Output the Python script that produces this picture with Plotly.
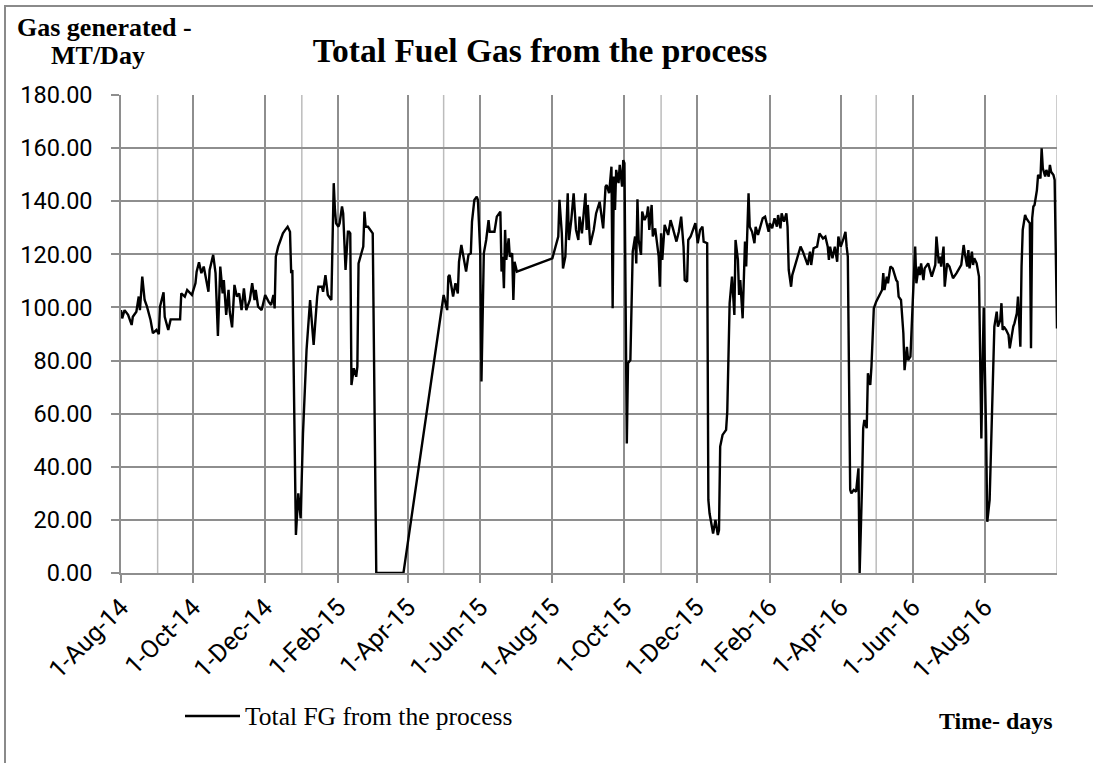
import pandas as pd
import plotly.graph_objects as go

# ---------------- data ----------------
start_date = "2014-08-01"
# days elapsed since 1-Aug-14
day_offset = [
    0, 1, 3, 6, 9, 10, 13, 15, 16, 18, 20, 22, 25, 27, 30, 32, 33, 36, 37, 40,
    42, 50, 51, 54, 56, 60, 63, 64, 66, 68, 70, 72, 74, 75, 78, 80, 81, 82, 84, 86,
    87, 89, 91, 92, 94, 96, 98, 100, 102, 104, 106, 109, 111, 113, 114, 116, 119, 122, 125, 127,
    129, 130, 131, 133, 135, 137, 139, 141, 143, 144, 145, 148, 150, 152, 154, 157, 160, 161, 163, 166,
    167, 170, 171, 173, 175, 178, 180, 181, 182, 184, 185, 187, 188, 190, 192, 193, 194, 195, 197, 199,
    200, 201, 203, 205, 206, 207, 209, 212, 213, 216, 239, 273, 274, 276, 277, 278, 281, 283, 285, 286,
    288, 290, 292, 294, 296, 297, 299, 301, 302, 304, 305, 307, 309, 311, 312, 316, 318, 321, 322, 323,
    324, 325, 326, 328, 329, 331, 332, 333, 335, 365, 369, 370, 371, 373, 374, 376, 378, 379, 381, 383,
    385, 387, 388, 390, 391, 393, 394, 395, 397, 400, 402, 405, 408, 410, 411, 413, 415, 416, 417, 418,
    419, 421, 422, 424, 425, 426, 428, 429, 431, 432, 433, 435, 436, 437, 438, 440, 441, 443, 445, 446,
    447, 449, 450, 452, 453, 455, 456, 457, 458, 460, 463, 465, 467, 470, 472, 474, 476, 477, 479, 480,
    482, 484, 486, 488, 490, 492, 493, 496, 497, 498, 501, 503, 505, 506, 507, 509, 512, 513, 515, 517,
    519, 520, 522, 523, 524, 526, 528, 529, 531, 532, 534, 536, 537, 539, 541, 543, 545, 548, 549, 551,
    553, 555, 556, 558, 559, 561, 563, 564, 565, 567, 568, 570, 572, 575, 577, 580, 581, 583, 584, 586,
    589, 590, 591, 594, 596, 598, 599, 600, 602, 604, 606, 607, 609, 611, 613, 614, 615, 617, 618, 620,
    622, 624, 625, 627, 628, 629, 631, 632, 634, 635, 637, 639, 641, 642, 644, 645, 646, 648, 649, 651,
    653, 656, 657, 658, 660, 662, 663, 665, 666, 668, 669, 670, 672, 673, 675, 676, 677, 679, 680, 683,
    686, 689, 690, 692, 693, 694, 696, 697, 699, 701, 704, 707, 711, 713, 714, 716, 717, 718, 720, 721,
    722, 724, 726, 728, 729, 730, 732, 733, 735, 736, 737, 739, 741, 742, 744, 745, 746, 747, 749, 751,
    752, 754, 755, 756, 758, 759, 761, 762, 763, 765, 766, 768, 769, 770, 771, 772, 773, 775, 776, 778,
    779, 780, 782, 783, 785, 786, 787, 789, 790, 792,
]
# Total FG from the process, MT/Day
fuel_gas = [
    99.0, 95.9, 99.0, 97.2, 93.4, 96.5, 98.4, 104.1, 99.0, 111.6, 102.8, 100.3, 95.3, 90.3, 91.5, 89.9, 100.3, 105.7, 96.5, 91.5,
    95.5, 95.5, 105.3, 104.1, 106.6, 104.7, 109.1, 113.5, 117.0, 112.9, 115.4, 110.3, 105.9, 114.1, 119.8, 112.9, 100.9, 89.3, 115.4, 105.3,
    110.3, 97.2, 106.6, 98.4, 92.5, 108.5, 104.1, 105.3, 99.0, 107.2, 99.0, 102.8, 109.1, 102.8, 106.6, 100.3, 99.0, 104.7, 102.1, 100.9,
    104.7, 99.6, 119.1, 122.9, 125.4, 127.9, 129.2, 130.4, 128.5, 112.9, 114.1, 14.3, 30.0, 20.6, 52.6, 84.0, 102.8, 97.8, 85.9, 104.1,
    107.8, 107.8, 105.9, 112.2, 104.7, 102.8, 146.8, 137.0, 131.7, 130.4, 131.7, 138.0, 135.4, 114.1, 128.5, 128.5, 127.9, 70.8, 77.1, 73.9,
    77.7, 116.6, 119.8, 122.9, 136.1, 130.4, 130.4, 128.5, 127.9, 0.0, 0.0, 104.7, 102.8, 99.0, 111.6, 112.2, 104.1, 109.1, 105.3, 117.2,
    123.5, 119.1, 113.5, 119.8, 120.4, 132.3, 140.5, 141.7, 140.5, 120.4, 72.1, 120.4, 125.4, 132.9, 128.5, 128.5, 134.2, 136.1, 113.5, 119.1,
    107.2, 129.2, 117.9, 126.0, 119.1, 120.4, 102.8, 117.2, 113.5, 118.5, 125.4, 126.7, 140.5, 127.9, 114.7, 119.1, 143.0, 125.4, 132.9, 143.0,
    129.2, 125.4, 134.2, 127.9, 132.9, 143.0, 129.2, 138.6, 123.5, 129.2, 135.4, 139.8, 129.8, 145.5, 146.1, 143.0, 153.0, 99.7, 149.3, 136.7,
    151.8, 146.8, 153.7, 145.5, 155.5, 154.3, 48.8, 79.0, 80.2, 102.8, 121.0, 126.7, 116.6, 140.7, 125.4, 119.8, 136.1, 132.9, 134.8, 138.0,
    129.2, 138.6, 126.7, 129.8, 126.7, 119.1, 107.8, 127.9, 117.9, 131.1, 127.3, 132.9, 129.8, 124.8, 128.5, 134.2, 122.9, 110.3, 109.7, 125.4,
    126.7, 129.2, 131.7, 124.2, 129.2, 130.4, 124.8, 124.2, 27.5, 22.5, 14.9, 20.0, 14.3, 16.2, 47.6, 52.0, 53.9, 60.8, 101.6, 111.6,
    97.2, 125.4, 117.9, 104.7, 110.3, 95.9, 124.8, 115.4, 143.0, 130.4, 128.5, 124.2, 130.4, 127.3, 130.4, 133.6, 134.2, 128.5, 131.7, 129.8,
    133.6, 130.4, 134.8, 129.8, 135.4, 132.3, 135.4, 130.4, 114.1, 107.8, 112.2, 115.4, 118.5, 122.9, 121.0, 116.6, 116.0, 121.0, 116.0, 122.3,
    122.9, 125.4, 127.9, 126.0, 126.7, 122.9, 117.9, 122.9, 118.5, 122.9, 117.2, 126.7, 122.9, 125.4, 128.5, 122.9, 119.1, 31.3, 30.0, 31.3,
    30.6, 39.4, 0.0, 32.5, 54.5, 57.6, 54.5, 75.2, 70.8, 77.7, 99.7, 102.2, 104.1, 105.3, 106.6, 112.9, 106.6, 111.6, 109.1, 115.4,
    114.7, 110.3, 109.7, 104.1, 102.8, 90.3, 76.4, 85.2, 80.2, 81.5, 90.3, 102.8, 122.9, 109.1, 115.4, 112.2, 116.6, 110.3, 114.7, 116.6,
    111.6, 116.0, 126.7, 116.6, 119.1, 115.4, 122.9, 107.8, 116.6, 115.4, 111.0, 112.9, 116.0, 123.5, 120.4, 115.4, 121.6, 114.7, 121.0, 116.0,
    118.5, 116.6, 111.6, 50.7, 77.7, 100.0, 52.6, 19.3, 27.5, 46.3, 65.2, 92.8, 98.4, 92.8, 95.3, 101.6, 91.5, 92.8, 91.5, 89.6,
    84.6, 90.3, 92.8, 94.0, 97.8, 104.1, 85.2, 115.4, 129.2, 134.8, 133.6, 132.3, 131.7, 84.6, 133.6, 138.0, 138.6, 144.2, 149.9, 148.6,
    159.9, 152.4, 149.3, 151.8, 149.3, 153.7, 151.1, 149.9, 148.0, 92.1,
]

x_range = ["2014-08-01", "2016-10-01"]
tick_dates = ["2014-08-01", "2014-10-01", "2014-12-01", "2015-02-01", "2015-04-01",
              "2015-06-01", "2015-08-01", "2015-10-01", "2015-12-01", "2016-02-01",
              "2016-04-01", "2016-06-01", "2016-08-01"]
minor_grid_dates = ["2014-09-01", "2015-01-01", "2015-05-01", "2015-11-01",
                    "2016-05-01", "2016-10-01"]
y_ticks = [0, 20, 40, 60, 80, 100, 120, 140, 160, 180]

series_name = "Total FG from the process"
title_text = "Total Fuel Gas from the process"
y_title_lines = ["Gas generated -", "MT/Day"]
x_title = "Time- days"

# ---------------- figure ----------------
dates = pd.Timestamp(start_date) + pd.to_timedelta(day_offset, unit="D")
tick_ts = pd.to_datetime(tick_dates)
tick_text = [f"{d.day}-{d.strftime('%b-%y')}" for d in tick_ts]

SERIF = "Liberation Serif, Times New Roman, serif"
SANS = "Roboto, Arial, sans-serif"
GRID = "#8e8e8e"
LIGHT = "#bcbcbc"

W, H = 1093, 763
L, R, T, B = 121, 36, 95, 190
pw, ph = W - L - R, H - T - B


def px_x(p):
    return (p - L) / pw


def px_y(p):
    return (H - B - p) / ph


fig = go.Figure()
fig.add_trace(go.Scatter(
    x=dates, y=fuel_gas, mode="lines", name=series_name,
    line=dict(color="black", width=2.4), showlegend=False,
))

shapes = []
for d in minor_grid_dates:
    shapes.append(dict(type="line", xref="x", yref="paper", x0=d, x1=d, y0=0, y1=1,
                       line=dict(color=LIGHT, width=1.5), layer="below"))
# chart-area border
shapes.append(dict(type="rect", xref="paper", yref="paper",
                   x0=px_x(5), x1=px_x(1110), y0=px_y(780), y1=px_y(6),
                   line=dict(color="#8a8a8a", width=2), layer="below"))
# legend key line
shapes.append(dict(type="line", xref="paper", yref="paper",
                   x0=px_x(185), x1=px_x(240), y0=px_y(716), y1=px_y(716),
                   line=dict(color="black", width=2.4)))

annotations = [
    dict(text=f"<b>{y_title_lines[0]}</b>", xref="paper", yref="paper", x=px_x(104), y=px_y(28),
         xanchor="center", yanchor="middle", showarrow=False,
         font=dict(family=SERIF, size=26, color="black")),
    dict(text=f"<b>{y_title_lines[1]}</b>", xref="paper", yref="paper", x=px_x(98), y=px_y(56),
         xanchor="center", yanchor="middle", showarrow=False,
         font=dict(family=SERIF, size=26, color="black")),
    dict(text=f"<b>{x_title}</b>", xref="paper", yref="paper", x=px_x(996), y=px_y(721),
         xanchor="center", yanchor="middle", showarrow=False,
         font=dict(family=SERIF, size=24, color="black")),
    dict(text=series_name, xref="paper", yref="paper", x=px_x(243), y=px_y(716),
         xanchor="left", yanchor="middle", showarrow=False,
         font=dict(family=SERIF, size=25.5, color="black")),
]

fig.update_layout(
    width=W, height=H,
    margin=dict(l=L, r=R, t=T, b=B),
    paper_bgcolor="white", plot_bgcolor="white",
    title=dict(text=f"<b>{title_text}</b>", x=540 / W, xanchor="center",
               y=1 - 50 / H, yanchor="middle",
               font=dict(family=SERIF, size=33.5, color="black")),
    showlegend=False,
    hovermode=False,
    shapes=shapes,
    annotations=annotations,
)

fig.update_xaxes(
    type="date", range=x_range,
    tickmode="array", tickvals=tick_ts, ticktext=tick_text, tickangle=-45,
    tickfont=dict(family=SANS, size=25, color="black"),
    showgrid=True, gridcolor=GRID, gridwidth=1.5,
    showline=True, linecolor=GRID, linewidth=1.5,
    ticks="outside", ticklen=8, tickcolor=GRID, tickwidth=1.5,
    zeroline=False,
)
fig.update_yaxes(
    range=[0, 180], tickmode="array", tickvals=y_ticks, tickformat=".2f",
    tickfont=dict(family=SANS, size=23.5, color="black"),
    showgrid=True, gridcolor=GRID, gridwidth=1.5,
    showline=True, linecolor=GRID, linewidth=1.5,
    ticks="outside", ticklen=8, tickcolor=GRID, tickwidth=1.5,
    ticklabelstandoff=14,
    zeroline=False,
)

fig.write_html("out.html", config={"displayModeBar": False},
               post_script="document.body.style.margin='0';")
